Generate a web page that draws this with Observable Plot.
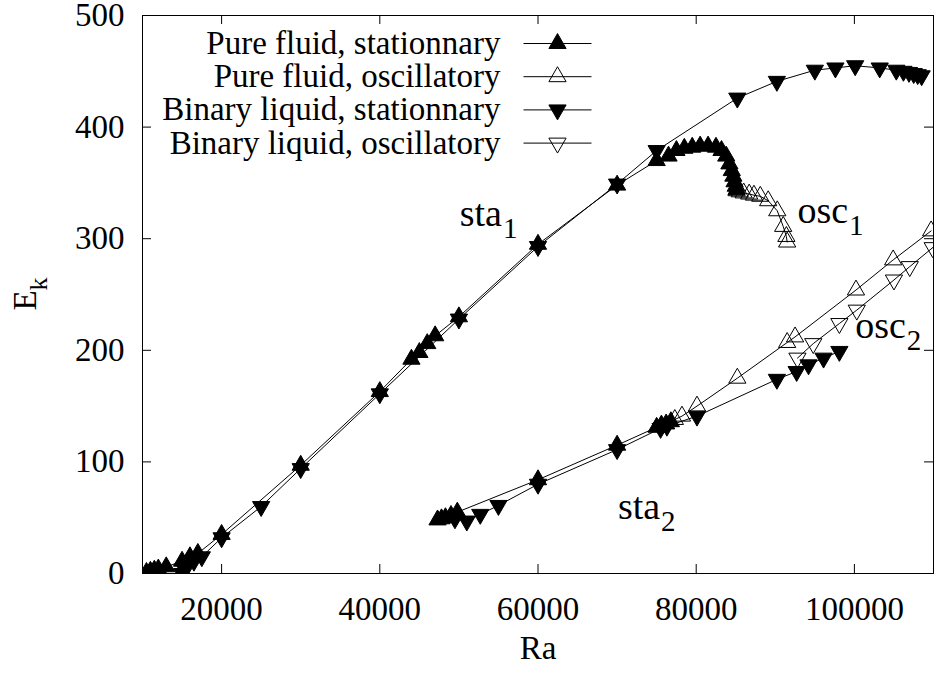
<!DOCTYPE html>
<html><head><meta charset="utf-8">
<script src="https://cdn.jsdelivr.net/npm/d3@7"></script>
<script src="https://cdn.jsdelivr.net/npm/@observablehq/plot@0.6"></script>
<style>body{margin:0;background:#fff} svg text{font-family:"Liberation Serif","Times New Roman","DejaVu Serif",serif !important;}</style>
</head><body><div id="chart"></div>
<script>
// ---- data ----
// Pure fluid, stationary: branch sta1
const pureSta1Ra = [10500,11000,11500,12000,13000,15000,16000,17000,20000,30000,40000,44000,45000,46000,47000,50000,60000,70000,75000,76500,77500,78500,79500,80500,81500,82500,83200,83800,84200,84500,84700,84850,85000,85100];
const pureSta1E  = [1,2,3,4,6,11,15,18,35,97,163,192,198,206,213,230,295,348,370,374,379,381,382,383,383,382,379,374,367,361,356,351,347,344];
// Pure fluid, stationary: branch sta2
const pureSta2Ra = [47300,47800,48300,49000,49800,60000,70000,75000,75600,76200,76800];
const pureSta2E  = [48,49,50,52,55,84,115,131,133,134,136];
// Pure fluid, oscillatory: branch osc1
const pureOsc1Ra = [85100,85500,86000,86700,87300,88100,89100,90250,91000,91400,91500];
const pureOsc1E  = [343,342,341,340,339,338,334,325,311,302,297];
// Pure fluid, oscillatory: branch osc2
const pureOsc2Ra = [77300,78200,80100,85200,91500,92500,100200,104900,109700];
const pureOsc2E  = [138,141,150,175,207,212,254,281,307];
// Binary liquid, stationary: branch sta1
const binSta1Ra = [15000,15300,15700,16500,17500,20000,25000,30000,40000,50000,60000,70000,75000,85200,90200,95000,97600,100100,103200,105300,106200,106900,107500,108000,108500];
const binSta1E  = [0,4,7,11,15,32,60,94,161,228,293,349,379,426,441,451,453,455,453,451,450,449,448,447,446];
// Binary liquid, stationary: branch sta2
const binSta2Ra = [49500,51000,52700,55000,60000,70000,75500,76300,80100,90200,92700,94200,96100,98100];
const binSta2E  = [49,47,53,61,80,111,130,132,141,174,181,187,193,199];
// Binary liquid, oscillatory: branch osc2
const binOscRa = [92800,94800,98100,100300,105000,107000,109900];
const binOscE  = [193,206,224,236,263,275,292];

const xTicks = [20000,40000,60000,80000,100000];
const yTicks = [0,100,200,300,400,500];
const legendLabels = ["Pure fluid, stationnary","Pure fluid, oscillatory","Binary liquid, stationnary","Binary liquid, oscillatory"];
const annoText = ["sta","osc","osc","sta"];
const annoSub  = ["1","1","2","2"];
const annoRa   = [50100,92800,100100,70100];
const annoE    = [311,314,211,49];

// ---- build table ----
function rows(series, branch, ra, e){ return ra.map((r,i)=>({series, branch, Ra:r, E:e[i]})); }
const data = [
  ...rows(0,"a",pureSta1Ra,pureSta1E), ...rows(0,"b",pureSta2Ra,pureSta2E),
  ...rows(1,"c",pureOsc1Ra,pureOsc1E), ...rows(1,"d",pureOsc2Ra,pureOsc2E),
  ...rows(2,"e",binSta1Ra,binSta1E), ...rows(2,"f",binSta2Ra,binSta2E),
  ...rows(3,"g",binOscRa,binOscE)
];

const sqrt3 = Math.sqrt(3);
const triUp = {draw(c,size){const y=-Math.sqrt(size/(sqrt3*3));c.moveTo(0,y*2);c.lineTo(-sqrt3*y,-y);c.lineTo(sqrt3*y,-y);c.closePath();}};
const triDown = {draw(c,size){const y=Math.sqrt(size/(sqrt3*3));c.moveTo(0,y*2);c.lineTo(-sqrt3*y,-y);c.lineTo(sqrt3*y,-y);c.closePath();}};
const styles = [
  {symbol:triUp, fill:"black"},
  {symbol:triUp, fill:"none"},
  {symbol:triDown, fill:"black"},
  {symbol:triDown, fill:"none"}
];

const W=935, H=678, mL=142, mR=2, mT=15, mB=105;
const pw = W-mL-mR, ph = H-mT-mB;
const xs = d3.scaleLinear([10000,110000],[mL,W-mR]);
const ys = d3.scaleLinear([0,500],[H-mB,mT]);
const FONT = '"Liberation Serif", "Times New Roman", "DejaVu Serif", serif';
const R = 6.4;

// legend layout (pixel positions converted to data space)
const legend = legendLabels.map((t,i)=>({i, t, yPx: 43 + i*33.2}));

// subscript offsets
const ctx = document.createElement("canvas").getContext("2d");
ctx.font = `38px ${FONT}`;
const anno = annoText.map((t,i)=>({t, s:annoSub[i], Ra:annoRa[i], E:annoE[i], w: ctx.measureText(t).width}));

const T = {fontFamily: FONT, fill: "black"};
const marks = [
  Plot.frame({stroke:"black", strokeWidth:1}),
  Plot.tickX(xTicks, {x:d=>d, insetTop: ph-9, stroke:"black"}),
  Plot.tickX(xTicks, {x:d=>d, insetBottom: ph-9, stroke:"black"}),
  Plot.tickY(yTicks, {y:d=>d, insetRight: pw-9, stroke:"black"}),
  Plot.tickY(yTicks, {y:d=>d, insetLeft: pw-9, stroke:"black"}),
  Plot.axisX(xTicks, {tickSize:0, tickPadding:23, tickFormat:d=>String(d), label:null, fontSize:33, ...T}),
  Plot.axisY(yTicks, {tickSize:0, tickPadding:18, tickFormat:d=>String(d), label:null, fontSize:33, ...T}),
  Plot.text(["Ra"], {frameAnchor:"bottom", dy:85, lineAnchor:"bottom", fontSize:33, ...T}),
  Plot.text(["E"], {frameAnchor:"left", dx:-107, dy:6, rotate:-90, lineAnchor:"bottom", textAnchor:"middle", fontSize:33, ...T}),
  Plot.text(["k"], {frameAnchor:"left", dx:-96, dy:-4, rotate:-90, lineAnchor:"bottom", textAnchor:"start", fontSize:26, ...T})
];
for (let s=0; s<4; s++) {
  const d = data.filter(r=>r.series===s);
  marks.push(Plot.line(d, {x:"Ra", y:"E", z:"branch", stroke:"black", strokeWidth:1, clip:true}));
}
for (let s=0; s<4; s++) {
  const d = data.filter(r=>r.series===s);
  marks.push(Plot.dot(d, {x:"Ra", y:"E", r:R, symbol:styles[s].symbol, fill:styles[s].fill, stroke:"black", strokeWidth:1, clip:true}));
}
// legend
marks.push(Plot.text(legend, {x:()=>xs.invert(500), y:d=>ys.invert(d.yPx), text:"t", textAnchor:"end", fontSize:33, ...T}));
marks.push(Plot.link(legend, {x1:()=>xs.invert(523), x2:()=>xs.invert(591), y1:d=>ys.invert(d.yPx), y2:d=>ys.invert(d.yPx), stroke:"black", strokeWidth:1}));
for (let s=0; s<4; s++) {
  marks.push(Plot.dot(legend.filter(d=>d.i===s), {x:()=>xs.invert(557), y:d=>ys.invert(d.yPx), r:R, symbol:styles[s].symbol, fill:styles[s].fill, stroke:"black", strokeWidth:1}));
}
// annotations
marks.push(Plot.text(anno, {x:"Ra", y:"E", text:"t", textAnchor:"start", lineAnchor:"bottom", fontSize:38, ...T}));
anno.forEach(a=>{
  marks.push(Plot.text([a], {x:"Ra", y:"E", text:"s", textAnchor:"start", lineAnchor:"bottom", fontSize:29, dx:a.w+1, dy:12, ...T}));
});

const chart = Plot.plot({
  width: W, height: H,
  marginLeft: mL, marginRight: mR, marginTop: mT, marginBottom: mB,
  x: {domain:[10000,110000]},
  y: {domain:[0,500]},
  style: {fontFamily: FONT, background:"white", color:"black", overflow:"visible"},
  marks
});
document.getElementById("chart").appendChild(chart);
</script>
</body></html>
